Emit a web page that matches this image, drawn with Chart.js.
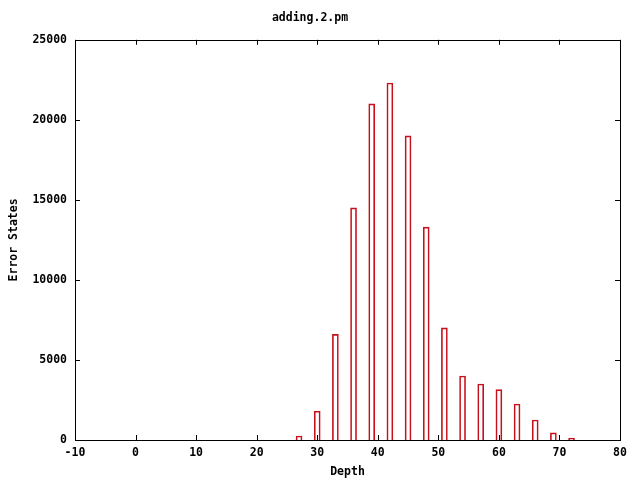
<!DOCTYPE html>
<html>
<head>
<meta charset="utf-8">
<script src="https://cdn.jsdelivr.net/npm/chart.js@4/dist/chart.umd.min.js"></script>
<style>
html,body{margin:0;padding:0;background:#fff;}
#wrap{width:640px;height:480px;}
</style>
</head>
<body>
<div id="wrap"><canvas id="c" width="640" height="480"></canvas></div>
<script>
const chartTitle = "adding.2.pm";
const xTitle = "Depth";
const yTitle = "Error States";
const depths = [27, 30, 33, 36, 39, 42, 45, 48, 51, 54, 57, 60, 63, 66, 69, 72];
const errorStates = [250, 1800, 6600, 14500, 21000, 22300, 19000, 13300, 7000, 4000, 3500, 3150, 2250, 1250, 450, 120];
const xTicks = [-10, 0, 10, 20, 30, 40, 50, 60, 70, 80];
const yTicks = [0, 5000, 10000, 15000, 20000, 25000];

const FONT = {family: "'DejaVu Sans Mono', 'Liberation Mono', monospace", size: 11.5, weight: 'bold', lineHeight: 1.2};

const framePlugin = {
  id: 'frame',
  afterDatasetsDraw(chart) {
    const {ctx, chartArea: a, scales: {x, y}} = chart;
    const L = 5;
    ctx.save();
    ctx.strokeStyle = '#000';
    ctx.lineWidth = 1;
    ctx.beginPath();
    x.ticks.forEach(t => {
      const px = Math.round(x.getPixelForValue(t.value)) + 0.5;
      ctx.moveTo(px, a.bottom); ctx.lineTo(px, a.bottom - L);
      ctx.moveTo(px, a.top); ctx.lineTo(px, a.top + L);
    });
    y.ticks.forEach(t => {
      const py = Math.round(y.getPixelForValue(t.value)) + 0.5;
      ctx.moveTo(a.left, py); ctx.lineTo(a.left + L, py);
      ctx.moveTo(a.right, py); ctx.lineTo(a.right - L, py);
    });
    ctx.stroke();
    ctx.strokeRect(Math.round(a.left) + 0.5, Math.round(a.top) + 0.5,
                   Math.round(a.right - a.left), Math.round(a.bottom - a.top));
    ctx.restore();
  }
};

new Chart(document.getElementById('c'), {
  type: 'bar',
  data: {
    datasets: [{
      data: depths.map((d, i) => ({x: d, y: errorStates[i]})),
      borderColor: 'rgb(200,16,28)',
      backgroundColor: 'rgba(255,255,255,0)',
      borderWidth: 1,
      barThickness: 6,
      borderSkipped: 'bottom'
    }]
  },
  options: {
    responsive: false,
    animation: false,
    layout: {padding: {left: 0, right: 20, top: 0, bottom: 0}},
    plugins: {
      legend: {display: false},
      tooltip: {enabled: false},
      title: {
        display: true, text: chartTitle, color: '#000', font: FONT,
        padding: {top: 11, bottom: 15}
      }
    },
    scales: {
      x: {
        type: 'linear', min: -10, max: 80, offset: false,
        afterBuildTicks: s => { s.ticks = xTicks.map(v => ({value: v})); },
        afterFit: s => { s.height = 40; },
        grid: {display: false, drawTicks: false, offset: false},
        border: {display: false},
        ticks: {color: '#000', font: FONT, padding: 6, maxRotation: 0, autoSkip: false,
                callback: v => String(v)},
        title: {display: true, text: xTitle, color: '#000', font: FONT, padding: {top: 0, bottom: 1}}
      },
      y: {
        type: 'linear', min: 0, max: 25000,
        afterBuildTicks: s => { s.ticks = yTicks.map(v => ({value: v})); },
        afterFit: s => { s.width = 75; },
        grid: {display: false, drawTicks: false},
        border: {display: false},
        ticks: {color: '#000', font: FONT, padding: 8, callback: v => String(v)},
        title: {display: true, text: yTitle, color: '#000', font: FONT, padding: {top: 7, bottom: 0}}
      }
    }
  },
  plugins: [framePlugin]
});
</script>
</body>
</html>
